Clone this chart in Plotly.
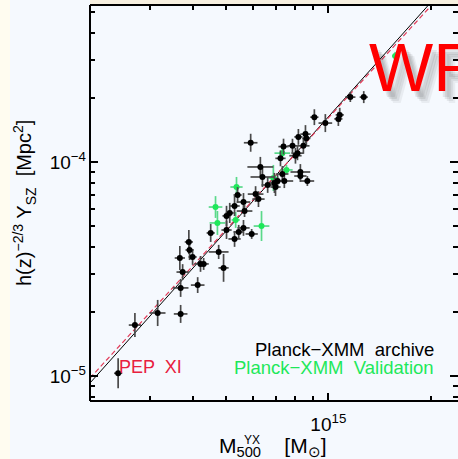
import plotly.graph_objects as go
import numpy as np

# ---------------- data ----------------
# Planck-XMM archive (black): M500 in 1e14 Msun, Y in 1e-5 Mpc^2, errors in dex
arch_M14 = [2.42, 2.71, 3.16, 3.69, 3.69, 4.14, 3.74, 3.67, 3.90, 3.92, 4.00, 4.22, 4.31, 4.52,
            4.77, 4.93, 5.03, 5.03, 5.14, 5.31, 5.31, 5.42, 5.46, 5.64, 5.64, 5.68, 5.96, 5.92,
            6.12, 6.24, 6.32, 6.41, 6.64, 6.95, 7.00, 7.10, 7.24, 7.33, 7.43, 7.39, 7.85, 8.01,
            8.12, 8.17, 8.45, 8.57, 8.62, 8.28, 8.28, 8.68, 9.10, 9.80, 10.7, 10.8, 11.6, 12.7]
arch_Y5 = [1.03, 1.73, 1.97, 1.95, 2.58, 2.66, 3.06, 3.56, 4.23, 3.88, 3.60, 3.34, 3.34, 4.66,
           3.80, 3.20, 4.81, 5.60, 5.78, 4.37, 6.23, 7.01, 4.71, 4.92, 6.50, 5.90, 4.61, 12.3,
           7.08, 6.71, 9.48, 8.51, 7.81, 7.98, 7.64, 8.15, 10.4, 8.79, 8.15, 11.8, 11.9, 10.7,
           11.0, 13.1, 11.9, 13.5, 12.9, 8.98, 8.60, 8.15, 16.2, 15.2, 15.9, 16.6, 20.1, 20.1]
arch_eM = [.012, .018, .023, .020, .023, .020, .018, .015, .012, .012, .012, .018, .015, .012,
           .029, .015, .015, .012, .012, .018, .015, .012, .015, .018, .020, .023, .018, .020,
           .023, .018, .038, .035, .018, .015, .015, .018, .015, .018, .026, .015, .015, .018,
           .018, .012, .018, .015, .012, .029, .018, .020, .012, .020, .012, .012, .015, .012]
arch_eY = [.070, .056, .061, .042, .042, .037, .037, .056, .056, .047, .037, .037, .028, .042,
           .033, .065, .042, .047, .047, .037, .047, .037, .033, .037, .042, .028, .023, .042,
           .037, .037, .047, .047, .037, .047, .042, .033, .037, .037, .033, .037, .033, .037,
           .033, .037, .037, .042, .033, .037, .028, .023, .037, .042, .033, .033, .023, .028]

# Planck-XMM validation (green)
val_M14 = [4.67, 4.73, 5.38, 5.35, 6.37, 6.90, 7.33, 7.54, 15.7]
val_Y5 = [6.16, 5.19, 7.64, 5.36, 5.02, 8.42, 11.0, 9.18, 31.3]
val_eM = [.020, .023, .018, .012, .023, .015, .023, .018, .009]
val_eY = [.051, .056, .047, .037, .070, .061, .028, .023, .019]

# scaling relations: Y = 1e-4 * 10^logA * (M / 6e14)^B
fit_logA, fit_B = -0.184, 1.78      # this sample (black solid)
pep_logA, pep_B = -0.180, 1.74      # PEP XI (red dashed)
M_line = [2.0e14, 2.6e15]

x_major = [1e15]
x_major_text = ["10<sup>15</sup>"]
x_minor = [3e14, 4e14, 5e14, 6e14, 7e14, 8e14, 9e14, 2e15]
y_major = [1e-5, 1e-4]
y_major_text = ["10<sup>−5</sup>", "10<sup>−4</sup>"]
y_minor = [8e-6, 9e-6, 2e-5, 3e-5, 4e-5, 5e-5, 6e-5, 7e-5, 8e-5, 9e-5, 2e-4, 3e-4, 4e-4, 5e-4]

# ---------------- figure ----------------
W, H = 458, 459
L, R, T, B = 90, 0, 5, 58
PW, PH = W - L - R, H - T - B
FONT = "Liberation Sans, Arial, sans-serif"


def px(xp):
    return (xp - L) / PW


def py(yp):
    return (H - B - yp) / PH


def trace_pts(M14, Y5, eM, eY, mcol, ecol, name):
    M = np.array(M14) * 1e14
    Y = np.array(Y5) * 1e-5
    eM = np.array(eM)
    eY = np.array(eY)
    return go.Scatter(
        x=M, y=Y, mode="markers", name=name,
        marker=dict(color=mcol, size=6, line=dict(width=0)),
        error_x=dict(type="data", symmetric=False, array=M * (10 ** eM - 1),
                     arrayminus=M * (1 - 10 ** -eM), color=ecol, thickness=1.7, width=0),
        error_y=dict(type="data", symmetric=False, array=Y * (10 ** eY - 1),
                     arrayminus=Y * (1 - 10 ** -eY), color=ecol, thickness=1.7, width=0),
        showlegend=False, hoverinfo="skip",
    )


Ml = np.array(M_line)
fig = go.Figure()
fig.add_trace(go.Scatter(x=Ml, y=1e-4 * 10 ** fit_logA * (Ml / 6e14) ** fit_B, mode="lines",
                         line=dict(color="black", width=1), showlegend=False, hoverinfo="skip"))
fig.add_trace(go.Scatter(x=Ml, y=1e-4 * 10 ** pep_logA * (Ml / 6e14) ** pep_B, mode="lines",
                         line=dict(color="#e23a58", width=1.2, dash="5px,3px"), showlegend=False,
                         hoverinfo="skip"))
fig.add_trace(trace_pts(val_M14, val_Y5, val_eM, val_eY, "#1ee85a", "#5ad98a", "Validation"))
fig.add_trace(trace_pts(arch_M14, arch_Y5, arch_eM, arch_eY, "black", "#4a4a4a", "Archive"))

axis_common = dict(showline=False, showgrid=False, zeroline=False, ticks="inside",
                   tickcolor="black", tickwidth=1.5, ticklen=8, mirror="ticks",
                   tickfont=dict(family=FONT, size=19, color="black"))

fig.update_xaxes(type="log", range=[np.log10(2.0e14) + 0.0003, 15.3801],
                 tickmode="array", tickvals=x_major, ticktext=x_major_text,
                 ticklabelstandoff=10,
                 minor=dict(tickmode="array", tickvals=x_minor, ticks="inside", ticklen=5,
                            tickwidth=1.5, tickcolor="black", showgrid=False),
                 **axis_common)
fig.update_yaxes(type="log", range=[-5.1168, -3.2664],
                 tickmode="array", tickvals=y_major, ticktext=y_major_text,
                 ticklabelstandoff=3,
                 minor=dict(tickmode="array", tickvals=y_minor, ticks="inside", ticklen=5,
                            tickwidth=1.5, tickcolor="black", showgrid=False),
                 **axis_common)

shapes = [
    # cream strips of the slide
    dict(type="rect", xref="paper", yref="paper", x0=px(0), x1=px(10), y0=py(H), y1=py(0),
         fillcolor="#fffcf0", line=dict(width=0), layer="below"),
    dict(type="rect", xref="paper", yref="paper", x0=px(90), x1=px(W), y0=py(4.5), y1=py(0),
         fillcolor="#f7f0e0", line=dict(width=0), layer="below"),
    # frame
    dict(type="line", xref="paper", yref="paper", x0=0, x1=0, y0=0, y1=1,
         line=dict(color="black", width=2)),
    dict(type="line", xref="paper", yref="paper", x0=0, x1=1, y0=0, y1=0,
         line=dict(color="black", width=2)),
    dict(type="line", xref="paper", yref="paper", x0=0, x1=1, y0=1, y1=1,
         line=dict(color="black", width=2)),
]

ann = []
# y title
ann.append(dict(xref="paper", yref="paper", x=px(24), y=py(203), showarrow=False,
                text="h(z)<sup>−2/3</sup> Y<sub>SZ</sub>  [Mpc<sup>2</sup>]", textangle=-90,
                xanchor="center", yanchor="middle",
                font=dict(family=FONT, size=20, color="black")))
# x title
ann.append(dict(xref="paper", yref="paper", x=px(273), y=py(446.5), showarrow=False,
                text="M<sub>500</sub>    [M<sub>⊙</sub>]", xanchor="center", yanchor="middle",
                font=dict(family=FONT, size=21, color="black")))
ann.append(dict(xref="paper", yref="paper", x=px(252), y=py(439.5), showarrow=False,
                text="YX", xanchor="center", yanchor="middle",
                font=dict(family=FONT, size=12, color="black")))
# legend texts
ann.append(dict(xref="paper", yref="paper", x=px(436), y=py(349), showarrow=False,
                text="Planck−XMM  archive", xanchor="right", yanchor="middle",
                font=dict(family=FONT, size=18.5, color="black")))
ann.append(dict(xref="paper", yref="paper", x=px(436), y=py(367), showarrow=False,
                text="Planck−XMM  Validation", xanchor="right", yanchor="middle",
                font=dict(family=FONT, size=18.5, color="#1ee85a")))
ann.append(dict(xref="paper", yref="paper", x=px(117), y=py(367), showarrow=False,
                text="PEP  XI", xanchor="left", yanchor="middle",
                font=dict(family=FONT, size=18, color="#e8203e")))
# big red stamp with soft shadow
for dx, dy, op in [(4, 6, 0.09), (6, 8, 0.09), (8, 10, 0.08), (10, 12, 0.06)]:
    ann.append(dict(xref="paper", yref="paper", x=px(367 + dx), y=py(67 + dy), showarrow=False,
                    text="WR", xanchor="left", yanchor="middle", opacity=op,
                    font=dict(family=FONT, size=68, color="#303030")))
ann.append(dict(xref="paper", yref="paper", x=px(367), y=py(67), showarrow=False,
                text="WR", xanchor="left", yanchor="middle",
                font=dict(family=FONT, size=68, color="#ff0000")))

fig.update_layout(width=W, height=H, margin=dict(l=L, r=R, t=T, b=B, autoexpand=False),
                  paper_bgcolor="#f5f9fe", plot_bgcolor="#f5f9fe",
                  shapes=shapes, annotations=ann, showlegend=False)

fig.write_html("out.html")
